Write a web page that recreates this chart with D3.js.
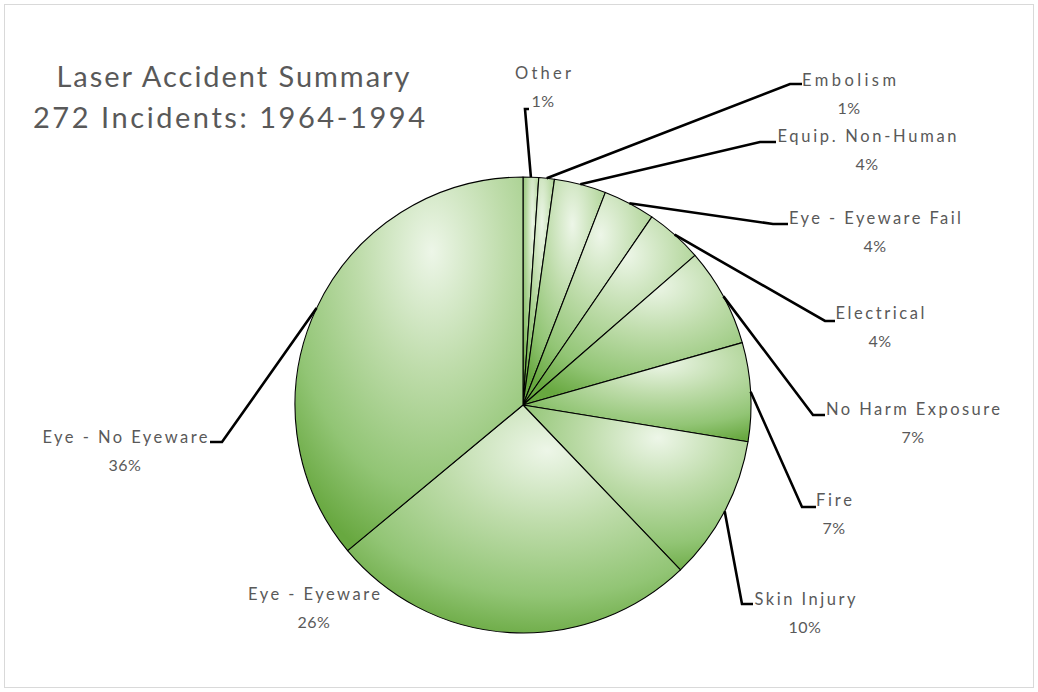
<!DOCTYPE html>
<html>
<head>
<meta charset="utf-8">
<script src="https://cdn.jsdelivr.net/npm/d3@7"></script>
<style>
  html, body { margin: 0; padding: 0; background: #fff; }
  svg text { font-family: Lato, "Open Sans", sans-serif; fill: #595959; }
</style>
</head>
<body>
<svg id="chart" width="1038" height="692"></svg>
<script>
// ---- data ----
const categories = ["Other", "Embolism", "Equip. Non-Human", "Eye - Eyeware Fail", "Electrical",
                    "No Harm Exposure", "Fire", "Skin Injury", "Eye - Eyeware", "Eye - No Eyeware"];
const incidents = [3, 3, 10, 10, 11, 19, 19, 28, 71, 98];
const titleLines = ["Laser Accident Summary", "272 Incidents: 1964-1994"];

// ---- layout (label anchors, not data) ----
const labelLayout = {
  "Other":              { x: 543, y: 79,  w: 56,  elbow: [525, 109], end: [529, 109] },
  "Embolism":           { x: 849, y: 86,  w: 94,  elbow: [790, 84],  end: [802, 84] },
  "Equip. Non-Human":   { x: 867, y: 142, w: 179, elbow: [760, 142], end: [776, 142] },
  "Eye - Eyeware Fail": { x: 875, y: 224, w: 172, elbow: [773, 224], end: [788, 224] },
  "Electrical":         { x: 880, y: 319, w: 89,  elbow: [825, 321], end: [835, 321] },
  "No Harm Exposure":   { x: 913, y: 415, w: 174, elbow: [813, 415], end: [825, 415] },
  "Fire":               { x: 834, y: 506, w: 36,  elbow: [802, 507], end: [816, 507] },
  "Skin Injury":        { x: 805, y: 605, w: 101, elbow: [742, 604], end: [753, 604] },
  "Eye - Eyeware":      { x: 314, y: 600, w: 132, elbow: null, end: null },
  "Eye - No Eyeware":   { x: 125, y: 443, w: 165, elbow: [222, 442], end: [210, 442] }
};

const W = 1038, H = 692;
const cx = 523, cy = 405, R = 228;
const svg = d3.select("#chart");

// chart area border
svg.append("rect").attr("x", 4.5).attr("y", 4.5).attr("width", W - 9).attr("height", H - 9)
  .attr("fill", "#fff").attr("stroke", "#d9d9d9").attr("stroke-width", 1);

const total = d3.sum(incidents);
const data = categories.map((c, i) => ({ category: c, value: incidents[i] }));
const pie = d3.pie().value(d => d.value).sort(null);
const arcs = pie(data);
const arc = d3.arc().innerRadius(0).outerRadius(R);
const pct = d3.format(".0%");

const defs = svg.append("defs");
arcs.forEach((a, i) => {
  const g = defs.append("radialGradient").attr("id", "grad" + i)
    .attr("cx", 0.6).attr("cy", 0.2).attr("r", 0.85).attr("fx", 0.6).attr("fy", 0.2);
  g.append("stop").attr("offset", "0%").attr("stop-color", "#edf6e8");
  g.append("stop").attr("offset", "38%").attr("stop-color", "#bedcaa");
  g.append("stop").attr("offset", "75%").attr("stop-color", "#92c575");
  g.append("stop").attr("offset", "100%").attr("stop-color", "#68a840");
});

const gPie = svg.append("g").attr("transform", `translate(${cx},${cy})`);
gPie.selectAll("path.slice").data(arcs).join("path")
  .attr("class", "slice")
  .attr("d", arc)
  .attr("fill", (d, i) => `url(#grad${i})`)
  .attr("stroke", "#000").attr("stroke-width", 1.1).attr("stroke-linejoin", "round");

// leader lines
const gLead = svg.append("g");
arcs.forEach(a => {
  const L = labelLayout[a.data.category];
  if (!L.elbow) return;
  const mid = (a.startAngle + a.endAngle) / 2;
  const p0 = [cx + R * Math.sin(mid), cy - R * Math.cos(mid)];
  gLead.append("path")
    .attr("d", d3.line()([p0, L.elbow, L.end]))
    .attr("fill", "none").attr("stroke", "#000").attr("stroke-width", 2.6)
    .attr("stroke-linejoin", "miter");
});

// labels
const gLab = svg.append("g");
arcs.forEach(a => {
  const L = labelLayout[a.data.category];
  gLab.append("text").attr("x", L.x).attr("y", L.y).attr("text-anchor", "middle")
    .attr("font-size", 16.5).attr("textLength", L.w).attr("lengthAdjust", "spacing")
    .text(a.data.category);
  gLab.append("text").attr("x", L.x).attr("y", L.y + 28).attr("text-anchor", "middle")
    .attr("font-size", 16).attr("letter-spacing", 0.5)
    .text(pct(a.data.value / total));
});

// title
svg.append("text").attr("x", 233).attr("y", 87).attr("text-anchor", "middle")
  .attr("font-size", 29).attr("textLength", 353).attr("lengthAdjust", "spacing")
  .text(titleLines[0]);
svg.append("text").attr("x", 229).attr("y", 128).attr("text-anchor", "middle")
  .attr("font-size", 29).attr("textLength", 392).attr("lengthAdjust", "spacing")
  .text(titleLines[1]);
</script>
</body>
</html>
